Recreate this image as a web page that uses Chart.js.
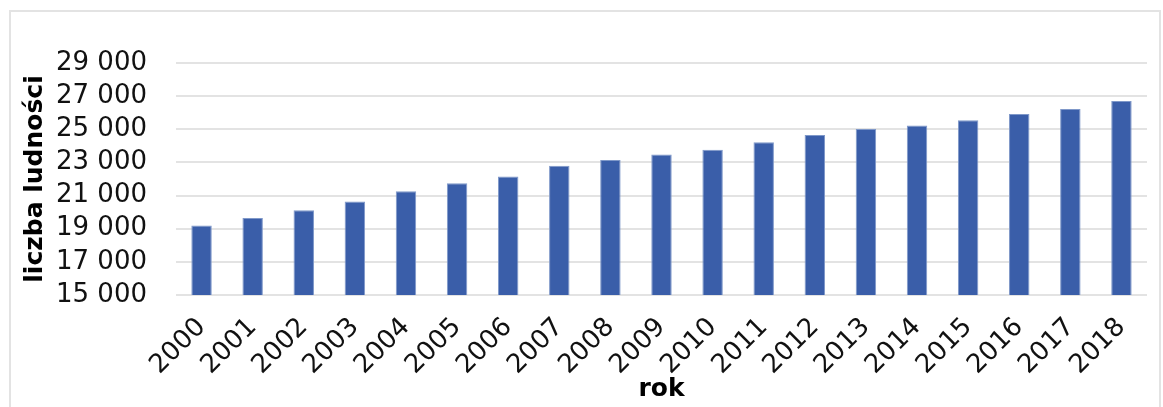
<html lang="pl">
<head>
    <meta charset="UTF-8">
    <title>Liczba ludności</title>
    <script src="https://cdn.jsdelivr.net/npm/chart.js"></script>
    <style>
        html, body { margin: 0; padding: 0; background: #fff; overflow: hidden; }
        #ramka { position: absolute; left: 9px; top: 10px; width: 1152px; height: 420px; border: 2px solid #e3e3e3; box-sizing: border-box; }
        #wrap { position: absolute; left: 0; top: 0; width: 1163px; height: 407px; }
    </style>
</head>
<body>
    <div id="ramka"></div>
    <div id="wrap"><canvas id="myChart" width="1163" height="407"></canvas></div>

    <script>
        // dane
        const lata = ['2000', '2001', '2002', '2003', '2004', '2005', '2006', '2007', '2008', '2009',
                      '2010', '2011', '2012', '2013', '2014', '2015', '2016', '2017', '2018'];
        const ludnosc = [19190, 19650, 20120, 20640, 21260, 21750, 22150, 22800, 23140, 23480,
                         23760, 24220, 24650, 25010, 25230, 25550, 25920, 26220, 26700];
        const osY = { min: 15000, max: 29000, krok: 2000 };

        // 29000 -> "29 000"
        function formatuj(v) {
            return String(v).replace(/\B(?=(\d{3})+(?!\d))/g, ' ');
        }

        const czcionka = '"DejaVu Sans", Verdana, sans-serif';

        let ctx = document.getElementById('myChart').getContext('2d');
        let myChart = new Chart(ctx, {
            type: 'bar',
            data: {
                labels: lata,
                datasets: [{
                    label: 'liczba ludności',
                    data: ludnosc,
                    backgroundColor: '#3a5ea9',
                    borderColor: '#7f98c9',
                    borderWidth: 1,
                    categoryPercentage: 1,
                    barPercentage: 0.4
                }]
            },
            options: {
                responsive: false,
                animation: false,
                devicePixelRatio: 1,
                layout: { padding: { left: 20, top: 63, right: 16, bottom: 0 } },
                plugins: {
                    legend: { display: false },
                    tooltip: { enabled: false }
                },
                scales: {
                    x: {
                        grid: { display: false },
                        border: { display: false },
                        ticks: {
                            color: '#111',
                            font: { family: czcionka, size: 26 },
                            minRotation: 45,
                            maxRotation: 45,
                            autoSkip: false,
                            padding: 9
                        },
                        title: {
                            display: true,
                            text: 'rok',
                            color: '#000',
                            font: { family: czcionka, size: 25, weight: 'bold' },
                            padding: { top: 0, bottom: 3 }
                        },
                        afterFit: function (scale) { scale.height = 407 - 295; }
                    },
                    y: {
                        min: osY.min,
                        max: osY.max,
                        grid: { color: '#e3e3e3', lineWidth: 2, drawTicks: false },
                        border: { display: false },
                        ticks: {
                            stepSize: osY.krok,
                            autoSkip: false,
                            color: '#111',
                            font: { family: czcionka, size: 26 },
                            padding: 29,
                            callback: function (v) { return formatuj(v); }
                        },
                        title: {
                            display: true,
                            text: 'liczba ludności',
                            color: '#000',
                            font: { family: czcionka, size: 25, weight: 'bold' },
                            padding: { top: 0, bottom: 0 }
                        },
                        afterFit: function (scale) { scale.width = 176 - 20; }
                    }
                }
            }
        });
    </script>
</body>
</html>
